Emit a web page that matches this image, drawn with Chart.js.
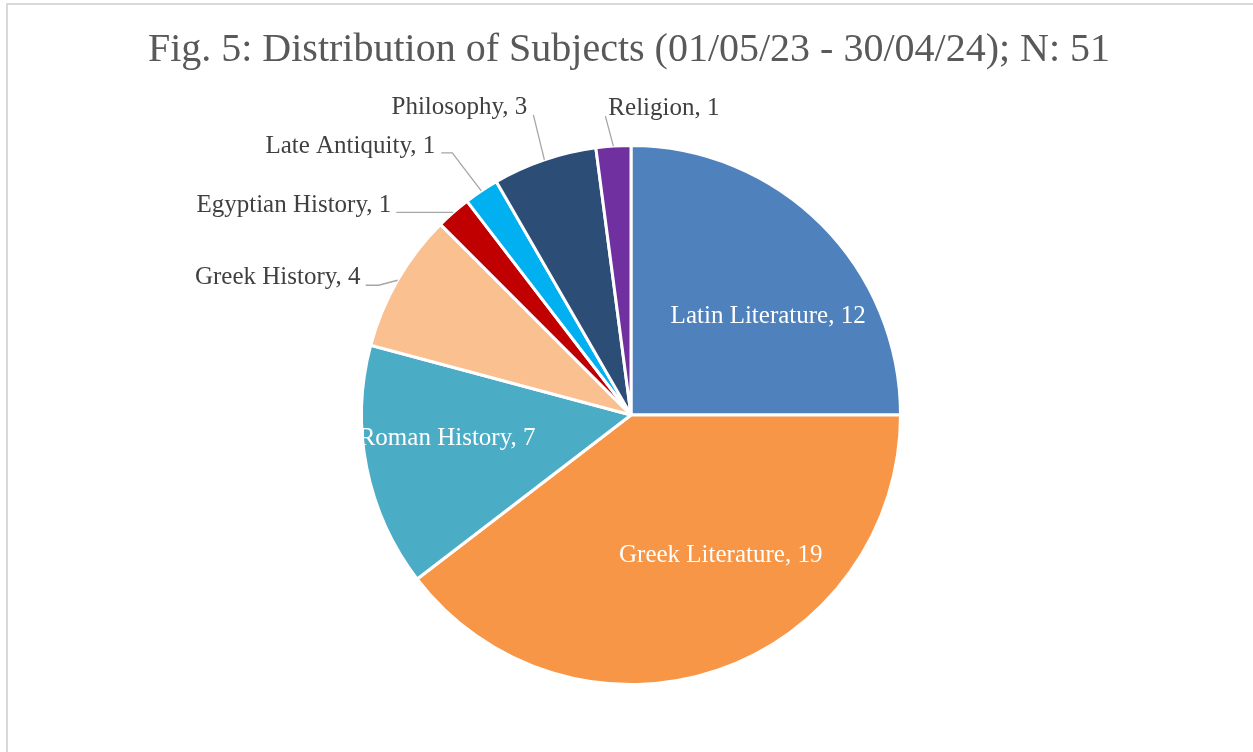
<!DOCTYPE html>
<html><head><meta charset="utf-8">
<script src="https://cdn.jsdelivr.net/npm/chart.js@4.4.1/dist/chart.umd.min.js"></script>
<style>html,body{margin:0;padding:0;background:#fff;overflow:hidden;} #wrap{position:absolute;left:0;top:0;width:1253px;height:752px;}</style>
</head><body><div id="wrap"><canvas id="c" width="1253" height="752"></canvas></div>
<script>
const categories = ['Latin Literature','Greek Literature','Roman History','Greek History','Egyptian History','Late Antiquity','Philosophy','Religion'];
const values = [12, 19, 7, 4, 1, 1, 3, 1];
const sliceColors = ['#4F81BD','#F79646','#4BACC6','#FAC090','#C00000','#00B0F0','#2C4D75','#7030A0'];
const titleText = 'Fig. 5: Distribution of Subjects (01/05/23 - 30/04/24); N: 51';

// label layout: inside labels -> offset from point at 0.62R on mid angle;
// outside labels -> leader line start/elbow offsets relative to arc midpoint on the rim
const labelLayout = {
  'Latin Literature': {inside:true, dx:19, dy:20},
  'Greek Literature': {inside:true, dx:36, dy:-18},
  'Roman History':    {inside:true, dx:-20, dy:-9},
  'Greek History':    {start:[-32,5], elbow:[-19,5], align:'right', tx:-5, ty:-8},
  'Egyptian History': {start:[-57,0], elbow:null, align:'right', tx:-5, ty:-7},
  'Late Antiquity':   {start:[-40,-38], elbow:[-29,-38], align:'right', tx:-6, ty:-6},
  'Philosophy':       {start:[-11,-45], elbow:null, align:'right', tx:-6, ty:-7},
  'Religion':         {start:[-8,-30], elbow:null, align:'left', tx:3, ty:-8}
};

const decorPlugin = {
  id:'decor',
  beforeDraw(chart){
    const ctx = chart.ctx;
    ctx.save();
    ctx.fillStyle = '#ffffff';
    ctx.fillRect(0,0,chart.width,chart.height);
    ctx.strokeStyle = '#d9d9d9';
    ctx.lineWidth = 2;
    ctx.beginPath();
    ctx.moveTo(7, chart.height);
    ctx.lineTo(7, 4);
    ctx.lineTo(chart.width, 4);
    ctx.stroke();
    // title
    ctx.fillStyle = '#595959';
    ctx.font = '40px "Liberation Serif"';
    ctx.textAlign = 'center';
    ctx.textBaseline = 'alphabetic';
    ctx.fillText(titleText, 629, 61);
    ctx.restore();
  },
  afterDatasetsDraw(chart){
    const ctx = chart.ctx;
    const meta = chart.getDatasetMeta(0);
    ctx.save();
    ctx.font = '25px "Liberation Serif"';
    meta.data.forEach((arc, i) => {
      const p = arc.getProps(['x','y','startAngle','endAngle','outerRadius'], true);
      const mid = (p.startAngle + p.endAngle)/2;
      const cat = categories[i];
      const txt = cat + ', ' + values[i];
      const L = labelLayout[cat];
      if (L.inside) {
        const r = p.outerRadius*0.62;
        const x = p.x + Math.cos(mid)*r + L.dx;
        const y = p.y + Math.sin(mid)*r + L.dy;
        ctx.fillStyle = '#ffffff';
        ctx.textAlign = 'center';
        ctx.textBaseline = 'middle';
        ctx.fillText(txt, x, y);
      } else {
        const ax = p.x + Math.cos(mid)*p.outerRadius;
        const ay = p.y + Math.sin(mid)*p.outerRadius;
        const sx = ax + L.start[0], sy = ay + L.start[1];
        ctx.strokeStyle = '#a6a6a6';
        ctx.lineWidth = 1.3;
        ctx.beginPath();
        ctx.moveTo(sx, sy);
        if (L.elbow) ctx.lineTo(ax + L.elbow[0], ay + L.elbow[1]);
        ctx.lineTo(ax, ay);
        ctx.stroke();
        ctx.fillStyle = '#404040';
        ctx.textAlign = L.align;
        ctx.textBaseline = 'middle';
        ctx.fillText(txt, sx + L.tx, sy + L.ty);
      }
    });
    ctx.restore();
  }
};

new Chart(document.getElementById('c'), {
  type:'pie',
  data:{
    labels: categories,
    datasets:[{
      data: values,
      backgroundColor: sliceColors,
      borderColor:'#ffffff',
      borderWidth:3
    }]
  },
  options:{
    responsive:false,
    animation:false,
    devicePixelRatio:1,
    layout:{padding:{left:9, right:0, top:144, bottom:66}},
    plugins:{legend:{display:false}, tooltip:{enabled:false}, title:{display:false}}
  },
  plugins:[decorPlugin]
});
</script>
</body></html>
